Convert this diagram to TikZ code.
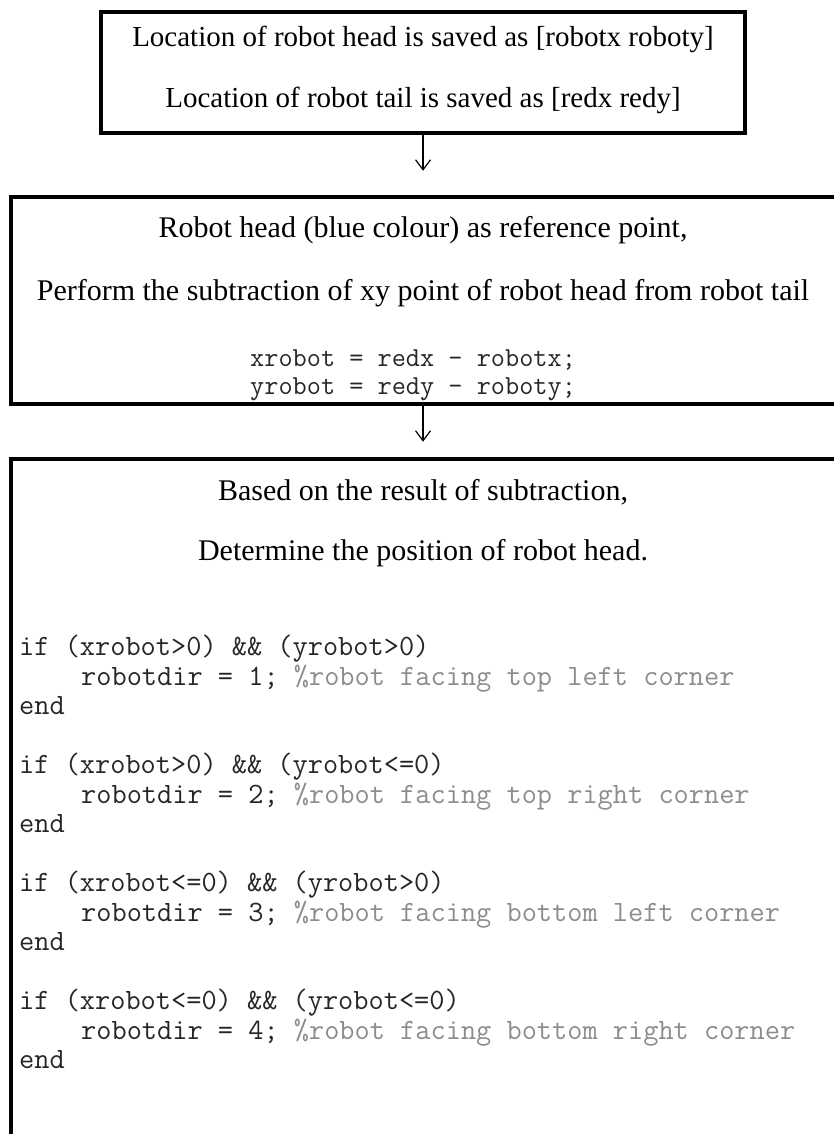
\documentclass[tikz,border=0pt]{standalone}
\usepackage{fontspec}
\setmainfont{Liberation Serif}
\usetikzlibrary{arrows.meta,positioning}

\tikzset{
  stepbox/.style={draw, line width=4.5pt, inner sep=0pt},
  say/.style={font=\fontsize{30}{33}\selectfont, inner sep=0pt, anchor=base},
  code/.style={font=\ttfamily\fontsize{29.5}{32}\selectfont, inner sep=0pt, anchor=base west, text=black!85},
  flow/.style={-{Straight Barb[length=10pt,width=15pt]}, line width=1.2pt},
}

\begin{document}
\begin{tikzpicture}[x=1pt,y=-1pt]
	\useasboundingbox (0,0) rectangle (833,1134);
	\coordinate (spine) at (423,0);
	% the three boxes
	\node[stepbox, minimum width=644pt, minimum height=121pt] (saved) at (423,72.5) {};
	\node[stepbox, minimum width=859pt, minimum height=207pt] (subtract) at (440.5,300.5) {};
	\node[stepbox, minimum width=859pt, minimum height=721pt] (decide) at (440.5,819.5) {};
	\draw[flow, shorten >=24pt] (saved.south -| spine) -- (subtract.north -| spine);
	\draw[flow, shorten >=15pt] (subtract.south -| spine) -- (decide.north -| spine);
	% first box
	\node[say, font=\fontsize{29}{32}\selectfont] (headloc) at (423,47) {Location of robot head is saved as [robotx roboty]};
	\node[say, font=\fontsize{29}{32}\selectfont] (tailloc) at (423,108) {Location of robot tail is saved as [redx redy]};
	% second box
	\node[say] (refpt) at (423,237) {Robot head (blue colour) as reference point,};
	\node[say] (minus) at (423,300) {Perform the subtraction of xy point of robot head from robot tail};
	\node[code, font=\ttfamily\fontsize{27.5}{30}\selectfont] (dx) at (250,366) {xrobot = redx - robotx;};
	\node[code, font=\ttfamily\fontsize{27.5}{30}\selectfont] (dy) at (250,394) {yrobot = redy - roboty;};
	% third box
	\node[say] (based) at (423,500) {Based on the result of subtraction,};
	\node[say] (where) at (423,560) {Determine the position of robot head.};
	\foreach \cond/\dir/\side [count=\i from 0] in {
		{(xrobot>0) \&\& (yrobot>0)}/1/{top left},
		{(xrobot>0) \&\& (yrobot<=0)}/2/{top right},
		{(xrobot<=0) \&\& (yrobot>0)}/3/{bottom left},
		{(xrobot<=0) \&\& (yrobot<=0)}/4/{bottom right}} {
		\node[code] (if\i) at (19,655+118*\i) {if \cond};
		\node[code] (dir\i) at (81,685+118*\i) {robotdir = \dir; {\color{black!45}\%robot facing \side\ corner}};
		\node[code] (end\i) at (19,714+118*\i) {end};
	}
\end{tikzpicture}
\end{document}
